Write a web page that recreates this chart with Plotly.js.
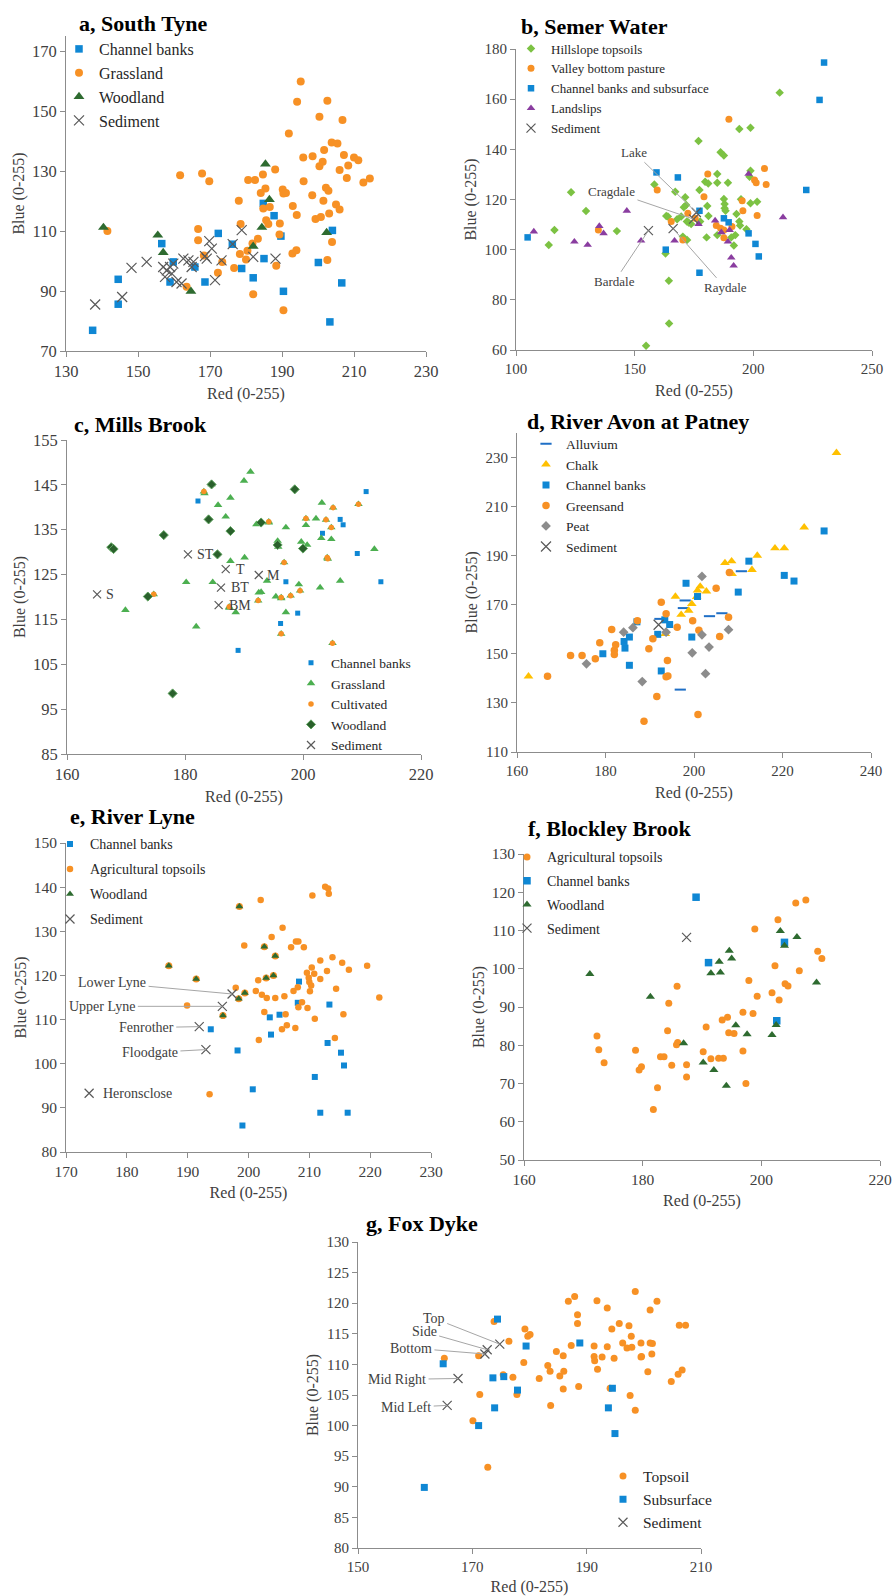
<!DOCTYPE html>
<html><head><meta charset="utf-8">
<script src="https://cdn.plot.ly/plotly-3.0.1.min.js"></script>
<style>html,body{margin:0;padding:0;background:#fff}#chart{width:893px;height:1596px}</style>
</head><body><div id="chart"></div>
<script>
// ---------------- DATA ----------------
// a, South Tyne
const a_cb_red  = [137.4,144.5,144.5,156.6,159.8,158.9,165.8,168.6,172.3,176.2,178.8,182.0,185.0,184.8,187.8,189.7,190.4,200.1,203.3,204.0,206.6];
const a_cb_blue = [76.9,85.6,93.9,105.8,99.7,93.0,98.0,93.0,109.2,105.6,97.5,94.4,100.8,119.2,115.1,108.3,89.9,99.5,79.7,110.2,92.7];
const a_gr_red  = [141.5,161.7,167.8,169.8,163.5,166.7,166.7,168.3,172.2,173.4,176.7,178.0,178.5,178.3,180.0,180.4,180.6,182.5,181.8,183.3,182.0,184.1,184.7,185.4,184.8,185.6,186.2,186.6,188.1,188.4,189.4,189.3,190.2,190.4,191.1,190.4,191.9,193.0,192.9,194.0,194.1,194.2,195.2,195.9,196.0,198.5,198.4,199.3,200.4,200.4,200.8,201.3,201.7,201.5,202.2,202.6,202.6,202.9,203.1,203.8,203.9,205.4,205.0,206.0,206.0,206.8,207.2,208.0,208.4,210.0,211.2,212.6,214.4];
const a_gr_blue = [110.0,128.6,129.2,126.6,91.4,110.7,106.9,101.8,96.1,99.7,97.7,120.1,112.3,102.3,100.5,103.4,127.0,127.0,105.8,107.4,88.9,122.7,128.8,124.2,117.5,113.6,112.3,118.0,130.5,98.4,112.5,108.8,123.8,122.5,122.7,83.6,142.5,118.3,102.5,103.6,115.3,153.1,159.8,134.5,126.6,134.9,121.9,114.0,148.1,131.6,114.7,133.1,137.0,120.1,124.4,153.4,100.3,123.4,115.8,139.5,106.3,139.2,118.8,117.2,130.3,147.0,135.3,127.7,131.8,134.5,133.6,126.2,127.5];
const a_wd_red  = [140.4,155.5,157.0,164.7,182.0,184.4,185.4,186.5,202.4];
const a_wd_blue = [111.2,108.6,102.8,89.9,104.9,111.2,132.3,120.5,109.5];
const a_sed_red  = [138.1,145.6,148.2,152.4,157.0,157.5,158.0,158.9,159.4,159.8,160.7,162.1,162.6,164.0,164.9,165.4,168.6,169.1,169.8,170.5,171.4,173.2,176.3,178.8,182.0,188.2];
const a_sed_blue = [85.5,88.0,97.7,99.7,98.0,94.7,96.9,98.0,95.8,99.1,93.0,92.5,100.8,100.2,98.0,99.7,101.6,100.8,106.6,104.1,93.6,100.2,105.6,110.3,101.4,100.8];

// b, Semer Water
const b_hs_red  = [113.8,116.2,123.2,129.5,142.5,154.8,158.3,163.0,163.3,164.0,164.4,164.5,167.1,167.9,169.6,170.7,171.3,171.7,172.0,172.7,172.1,170.3,173.8,176.9,177.3,177.6,179.7,180.6,180.3,181.0,181.1,184.8,184.8,184.8,186.2,187.6,187.6,187.9,187.9,188.3,189.3,190.7,191.8,192.4,192.9,194.1,194.1,194.4,194.8,197.1,198.4,198.8,198.8,198.8,201.6,211.1];
const b_hs_blue = [101.9,107.8,122.9,115.4,107.4,61.7,126.0,98.5,113.4,113.2,87.6,70.6,123.1,112.1,113.2,116.9,120.9,117.8,111.2,110.8,103.9,105.2,110.2,143.3,123.8,111.2,127.1,117.4,104.9,126.4,113.4,130.2,126.7,105.8,138.8,137.5,120.2,118.2,116.5,115.5,126.7,104.9,101.7,105.8,114.2,148.1,111.2,109.6,120.1,108.1,129.1,131.5,148.6,118.5,119.1,162.6];
const b_vb_red  = [134.7,159.5,165.4,170.3,172.4,175.5,179.2,180.8,184.4,186.2,187.6,187.6,189.7,191.0,195.3,195.6,200.5,201.2,201.6,204.7,205.4];
const b_vb_blue = [107.8,123.8,111.2,103.9,114.5,112.5,121.1,130.2,109.6,108.5,104.8,107.8,152.0,109.2,119.5,115.5,127.8,126.7,113.6,132.4,126.0];
const b_cb_red  = [104.9,159.2,163.1,168.2,177.3,177.3,187.6,189.6,198.0,200.9,202.3,222.3,227.9,229.8];
const b_cb_blue = [104.9,130.8,100.0,128.8,115.5,90.8,112.5,110.9,106.5,102.3,97.3,123.8,159.7,174.6];
const b_ls_red  = [107.5,124.6,130.2,135.1,136.9,146.7,152.7,166.8,176.9,183.9,186.5,189.3,190.0,190.7,191.7,198.0,212.5];
const b_ls_blue = [107.2,103.2,101.9,109.4,106.5,115.5,103.6,103.6,110.2,111.6,106.9,103.2,107.8,96.8,93.6,130.2,112.9];
const b_sed_names = ['Lake','Cragdale','Bardale','Raydale'];
const b_sed_red   = [176.0,174.8,155.8,166.2];
const b_sed_blue  = [114.8,112.2,107.6,108.4];

// c, Mills Brook
const c_cb_red  = [182.2,189.0,196.2,197.1,199.1,203.3,206.3,206.8,209.2,210.7,213.2];
const c_cb_blue = [141.4,108.1,114.1,123.4,116.4,134.2,137.3,136.1,129.7,143.5,123.4];
const c_gr_red  = [169.9,180.2,181.9,183.3,184.5,184.7,185.6,186.9,187.7,187.7,187.5,188.6,190.0,190.1,191.1,192.1,192.5,192.9,193.9,194.2,195.4,195.7,195.8,196.3,197.1,197.1,199.3,199.7,200.5,200.7,202.2,202.9,203.1,203.2,204.8,206.3,212.1];
const c_gr_blue = [117.1,123.3,113.4,143.1,145.1,123.3,140.5,137.9,142.1,128.0,117.6,116.6,145.9,128.8,147.9,136.2,121.0,121.1,123.6,136.6,120.1,132.5,131.2,119.7,135.5,116.6,122.8,132.3,136.0,131.6,137.5,122.1,133.1,141.0,132.9,123.6,130.7];
const c_cu_red  = [174.7,183.2,187.5,192.4,194.2,196.3,196.3,196.8,197.9,199.5,200.5,203.9,204.1,204.2,204.8,205.1,205.0,209.4];
const c_cu_blue = [120.6,143.5,117.8,119.2,136.8,119.9,111.8,127.7,120.3,121.4,137.5,137.2,128.8,128.5,135.5,139.9,109.7,140.7];
const c_wd_red  = [167.5,167.9,173.7,176.4,177.9,184.0,184.5,185.5,187.7,192.9,195.7,198.6,200.0];
const c_wd_blue = [131.1,130.7,120.1,133.8,98.5,137.3,145.1,129.5,134.7,136.6,131.6,144.0,130.8];
const c_sed_names = ['S','ST','T','M','BT','BM'];
const c_sed_red   = [165.1,180.5,186.9,192.5,186.1,185.7];
const c_sed_blue  = [120.6,129.5,126.2,124.9,122.1,118.2];

// d, River Avon at Patney
const d_al_red  = [210.7,198.0,197.6,203.5,206.3,192.3,196.9];
const d_al_blue = [183.6,171.7,168.6,165.3,166.5,164.2,135.4];
const d_ch_red  = [162.6,195.8,197.1,198.8,199.5,200.8,201.4,202.8,200.6,193.5,207.0,208.5,208.6,213.1,214.3,218.3,220.4,224.9,232.2];
const d_ch_blue = [140.8,173.3,165.9,167.6,170.3,175.8,177.4,175.4,173.2,158.1,187.0,187.7,182.5,184.2,190.0,193.0,193.0,201.5,231.8];
const d_cb_red  = [179.4,184.2,184.4,185.4,185.4,192.6,191.8,193.4,194.5,198.2,199.5,200.8,210.0,212.4,220.4,222.6,229.4,187.1];
const d_cb_blue = [150.0,155.0,152.3,156.8,145.3,143.0,157.9,163.8,161.9,178.7,156.8,173.3,175.1,187.7,181.9,179.6,200.0,163.0];
const d_gs_red  = [166.9,172.1,174.7,177.7,178.7,181.4,182.0,182.0,182.3,187.2,188.7,189.8,190.7,191.6,192.6,193.7,194.0,193.7,194.1,196.2,199.7,201.1,200.9,205.0,205.8,207.8,208.0];
const d_gs_blue = [140.8,149.3,149.3,148.0,154.5,159.9,151.4,149.7,153.7,163.4,122.5,152.0,156.1,132.6,171.0,166.3,147.3,140.6,140.9,160.8,163.4,159.6,125.3,176.7,157.0,164.9,183.1];
const d_pt_red  = [175.7,184.1,186.2,188.3,193.7,199.6,201.8,201.8,202.6,203.4,207.8];
const d_pt_blue = [145.9,158.8,160.6,138.7,158.8,150.4,181.5,157.7,141.9,152.7,159.8];
const d_sed_red  = [192.0];
const d_sed_blue = [161.8];

// e, River Lyne
const e_cb_red  = [193.8,198.2,199.0,200.7,203.5,203.7,205.1,208.1,208.3,210.9,211.8,213.0,213.3,215.2,215.7,216.3];
const e_cb_blue = [107.8,103.0,86.0,94.2,110.5,106.6,111.1,113.8,118.6,97.0,88.9,104.7,113.4,102.5,99.6,88.9];
const e_ag_red  = [189.9,193.6,197.9,199.3,201.2,201.6,201.7,202.0,202.2,202.6,203.0,203.8,204.4,205.5,205.6,205.9,206.1,206.3,207.0,207.4,207.7,207.8,208.2,208.1,208.2,208.8,209.1,209.7,209.6,209.9,210.0,210.1,210.4,210.5,210.3,210.8,210.9,211.8,211.8,212.6,212.9,213.1,213.2,213.8,214.2,214.4,215.4,215.6,216.5,219.5,221.5];
const e_ag_blue = [113.2,93.1,117.2,126.8,116.5,118.9,105.4,137.1,115.6,111.7,114.9,128.7,114.9,107.8,130.8,115.3,111.2,108.7,126.4,116.5,108.1,127.7,127.7,117.3,112.8,113.9,126.4,112.6,120.6,119.5,118.5,116.4,121.8,138.1,117.7,120.4,110.2,119.2,123.4,140.1,121.0,139.7,138.5,124.1,105.8,117.0,122.9,111.2,121.3,122.2,115.0];
const e_wd_red  = [186.9,191.4,195.8,198.4,199.4,198.5,202.6,202.9,204.1,204.4];
const e_wd_blue = [122.2,119.2,110.9,114.7,116.0,135.6,126.5,119.4,120.0,124.4];
const e_sed_names = ['Lower Lyne','Upper Lyne','Fenrother','Floodgate','Heronsclose'];
const e_sed_red   = [197.3,195.7,191.9,193.0,173.8];
const e_sed_blue  = [115.8,113.0,108.4,103.2,93.3];

// f, Blockley Brook
const f_ag_red  = [172.3,172.6,173.5,178.8,179.4,179.8,181.8,182.5,183.0,183.6,184.2,184.4,184.9,185.7,185.8,185.9,187.4,187.4,190.2,190.7,191.5,192.8,193.6,193.4,194.3,194.5,195.4,196.9,196.9,197.4,197.9,198.6,198.9,199.3,201.8,202.3,202.8,203.0,204.0,204.5,205.8,206.4,207.5,209.5,210.2];
const f_ag_blue = [82.4,78.8,75.4,78.7,73.5,74.4,63.2,68.9,77.0,77.0,83.8,91.0,74.8,80.1,95.4,80.7,74.9,71.7,78.3,84.8,76.5,76.6,76.6,86.6,87.3,83.3,83.1,88.6,78.5,70.0,96.9,88.3,110.4,92.8,93.7,100.8,112.8,91.8,96.1,95.5,117.2,99.5,118.0,104.6,102.7];
const f_cb_red  = [189.0,191.1,202.6,203.9];
const f_cb_blue = [118.7,101.6,86.4,106.9];
const f_wd_red  = [171.1,181.3,186.9,190.2,191.5,192.9,193.1,192.0,194.6,194.1,195.0,195.7,197.6,201.8,202.5,203.2,203.9,206.0,209.3];
const f_wd_blue = [98.6,92.7,80.5,75.5,98.8,101.8,99.0,73.5,104.7,69.4,102.7,85.2,82.9,82.7,85.3,109.9,106.0,108.3,96.4];
const f_sed_red  = [187.4];
const f_sed_blue = [108.2];

// g, Fox Dyke
const g_ts_red  = [165.1,171.1,171.3,170.1,172.7,173.8,175.4,176.4,177.1,177.8,179.0,179.2,179.7,180.1,181.7,183.2,183.6,183.7,184.7,185.3,185.9,186.0,185.9,186.8,187.3,187.9,188.4,188.4,188.6,191.3,191.3,191.4,191.8,191.9,192.7,193.6,193.6,194.4,194.8,194.1,195.7,196.3,197.05,197.4,197.8,197.6,197.9,198.5,198.5,199.5,199.5,199.6,200.7,201.1,201.1,201.4,201.5,202.3,204.8,206.0,206.2,206.7,207.3];
const g_ts_blue = [111.0,111.4,105.1,100.8,93.2,117.0,108.3,113.8,107.9,105.1,110.3,115.8,114.6,114.9,107.7,109.8,108.9,103.3,112.1,108.1,111.4,108.9,106.0,120.3,113.1,121.1,118.1,116.7,106.4,113.0,111.3,110.6,120.4,109.2,111.2,119.2,112.9,115.8,111.0,106.1,116.7,113.5,112.7,116.3,114.6,104.9,112.8,121.9,102.5,113.5,111.2,111.3,108.8,118.9,113.5,111.7,113.4,120.3,107.2,108.4,116.4,109.1,116.4];
const g_ss_red  = [161.6,164.9,171.1,173.6,173.9,174.4,175.5,177.9,179.4,188.8,193.8,194.5,194.95];
const g_ss_blue = [89.9,110.1,100.0,107.8,102.9,117.4,108.0,105.8,113.0,113.5,102.9,106.1,98.7];
const g_sed_names = ['Top','Side','Bottom','Mid Right','Mid Left'];
const g_sed_red   = [174.8,172.6,172.2,167.5,165.6];
const g_sed_blue  = [113.3,112.4,111.7,107.7,103.3];

// ---------------- STYLE / LAYOUT ----------------
const W = 893, H = 1596;
const SERIF = '"Liberation Serif", "Times New Roman", serif';
const C = {blue:'#0F87D4', orange:'#F79125', dkgreen:'#2E6B30', green:'#4CAF50', wgreen:'#2A602C',
           lgreen:'#7CC243', purple:'#8A3DA0', yellow:'#FFC000', peat:'#8C8C8C', alluv:'#1F6FC6', sed:'#595959'};

// panel geometry in pixels: x axis [left,right], y axis [bottom,top]; legend [left, top]
const PANELS = [
  {id:'a', title:'a, South Tyne',          tx:77,  ty:23,   xd:[66,426],  yd:[351,36],   xr:[130,230], yr:[70,175],  xt:[130,20], yt:[70,20],  tf:16.5, leg:[59,32],    lf:16,   lg:0},
  {id:'b', title:'b, Semer Water',         tx:519, ty:27,   xd:[516,872], yd:[350,49],   xr:[100,250], yr:[60,180],  xt:[100,50], yt:[60,20],  tf:15,   leg:[511,33.5], lf:13,   lg:0},
  {id:'c', title:'c, Mills Brook',         tx:72,  ty:424,  xd:[67,421],  yd:[754,440],  xr:[160,220], yr:[85,155],  xt:[160,20], yt:[85,10],  tf:16.5, leg:[291,647.5],lf:13.5, lg:0},
  {id:'d', title:'d, River Avon at Patney',tx:525, ty:421,  xd:[517,871], yd:[752,432.7],xr:[160,240], yr:[110,240], xt:[160,20], yt:[110,20], tf:15,   leg:[526,428.5],lf:13.5, lg:0},
  {id:'e', title:'e, River Lyne',          tx:68,  ty:817,  xd:[66,431],  yd:[1152,843], xr:[170,230], yr:[80,150],  xt:[170,10], yt:[80,10],  tf:15.5, leg:[50,828.4], lf:14,   lg:3.8},
  {id:'f', title:'f, Blockley Brook',      tx:526, ty:828,  xd:[524,880], yd:[1160,854], xr:[160,220], yr:[50,130],  xt:[160,20], yt:[50,10],  tf:15.5, leg:[507,841.4],lf:14,   lg:2.5},
  {id:'g', title:'g, Fox Dyke',            tx:364, ty:1223, xd:[358,701], yd:[1548,1242],xr:[150,210], yr:[80,130],  xt:[150,20], yt:[80,5],   tf:15,   leg:[603,1459.4],lf:15.5, lg:0}
];

const layout = {width:W, height:H, margin:{l:0,r:0,t:0,b:0}, paper_bgcolor:'#fff', plot_bgcolor:'rgba(0,0,0,0)',
                showlegend:true, annotations:[], font:{family:SERIF, color:'#404040'}};
const traces = [];
const AXC = '#8c8c8c';

PANELS.forEach((p, i) => {
  const n = i === 0 ? '' : String(i + 1);
  p.xa = 'x' + n; p.ya = 'y' + n; p.lg_name = 'legend' + n;
  layout['xaxis' + n] = {domain:[p.xd[0]/W, p.xd[1]/W], range:p.xr, tickmode:'linear', tick0:p.xt[0], dtick:p.xt[1],
    anchor:p.ya, showline:true, linecolor:AXC, linewidth:1, ticks:'outside', ticklen:5, tickcolor:AXC, showgrid:false, zeroline:false,
    tickfont:{family:SERIF, size:p.tf, color:'#404040'}, fixedrange:true,
    title:{text:'Red (0-255)', font:{family:SERIF, size:16, color:'#404040'}, standoff:8}};
  layout['yaxis' + n] = {domain:[1-p.yd[0]/H, 1-p.yd[1]/H], range:p.yr, tickmode:'linear', tick0:p.yt[0], dtick:p.yt[1],
    anchor:p.xa, showline:true, linecolor:AXC, linewidth:1, ticks:'outside', ticklen:5, tickcolor:AXC, showgrid:false, zeroline:false,
    tickfont:{family:SERIF, size:p.tf, color:'#404040'}, fixedrange:true,
    title:{text:'Blue (0-255)', font:{family:SERIF, size:16, color:'#404040'}, standoff:3}};
  layout[p.lg_name] = {x:p.leg[0]/W, y:1-p.leg[1]/H, xanchor:'left', yanchor:'top', bgcolor:'rgba(0,0,0,0)', borderwidth:0,
    font:{family:SERIF, size:p.lf, color:'#262626'}, traceorder:'grouped', tracegroupgap:p.lg, itemsizing:'trace'};
  layout.annotations.push({xref:'paper', yref:'paper', x:p.tx/W, y:1-p.ty/H, xanchor:'left', yanchor:'middle', showarrow:false,
    text:'<b>' + p.title + '</b>', font:{family:SERIF, size:22, color:'#000'}});
});
const PB = Object.fromEntries(PANELS.map(p => [p.id, p]));

let gcount = 0;
function add(pid, name, xs, ys, marker, opts) {
  const p = PB[pid];
  const t = {type:'scatter', mode:'markers', x:xs, y:ys, xaxis:p.xa, yaxis:p.ya, name:name, legend:p.lg_name,
             legendgroup:'g' + (gcount++), marker:Object.assign({line:{width:0}}, marker), hoverinfo:'skip', cliponaxis:false};
  Object.assign(t, opts || {});
  traces.push(t);
}
const sq = (c, s) => ({symbol:'square', color:c, size:s});
const ci = (c, s) => ({symbol:'circle', color:c, size:s});
const tr = (c, s) => ({symbol:'triangle-up', color:c, size:s});
const di = (c, s) => ({symbol:'diamond', color:c, size:s});
const xx = (s) => ({symbol:'x-thin-open', color:C.sed, size:s, line:{width:1.2, color:C.sed}});

// a
add('a', 'Channel banks', a_cb_red, a_cb_blue, sq(C.blue, 7.5));
add('a', 'Grassland', a_gr_red, a_gr_blue, ci(C.orange, 8));
add('a', 'Woodland', a_wd_red, a_wd_blue, tr(C.dkgreen, 9.5));
add('a', 'Sediment', a_sed_red, a_sed_blue, xx(10));
// b
add('b', 'Hillslope topsoils', b_hs_red, b_hs_blue, di(C.lgreen, 6.5));
add('b', 'Valley bottom pasture', b_vb_red, b_vb_blue, ci(C.orange, 7));
add('b', 'Channel banks and subsurface', b_cb_red, b_cb_blue, sq(C.blue, 6.5));
add('b', 'Landslips', b_ls_red, b_ls_blue, tr(C.purple, 7.5));
add('b', 'Sediment', b_sed_red, b_sed_blue, xx(9));
// c
add('c', 'Channel banks', c_cb_red, c_cb_blue, sq(C.blue, 5));
add('c', 'Grassland', c_gr_red, c_gr_blue, tr(C.green, 7.5));
add('c', 'cu-under', c_cu_red, c_cu_blue, tr(C.green, 7.5), {showlegend:false});
add('c', 'Cultivated', c_cu_red, c_cu_blue, ci(C.orange, 5.5));
add('c', 'Woodland', c_wd_red, c_wd_blue, Object.assign(di(C.wgreen, 7), {line:{width:1, color:'#5FA35F'}}));
add('c', 'Sediment', c_sed_red, c_sed_blue, xx(8));
// d
add('d', 'Alluvium', d_al_red, d_al_blue, {symbol:'line-ew', size:8, color:C.alluv, line:{width:2, color:C.alluv}});
add('d', 'Chalk', d_ch_red, d_ch_blue, tr(C.yellow, 8.5));
add('d', 'Channel banks', d_cb_red, d_cb_blue, sq(C.blue, 7));
add('d', 'Greensand', d_gs_red, d_gs_blue, ci(C.orange, 7.5));
add('d', 'Peat', d_pt_red, d_pt_blue, di(C.peat, 7.5));
add('d', 'Sediment', d_sed_red, d_sed_blue, xx(10));
// e
add('e', 'Channel banks', e_cb_red, e_cb_blue, sq(C.blue, 6));
add('e', 'Agricultural topsoils', e_ag_red, e_ag_blue, ci(C.orange, 6.5));
add('e', 'wd-under', e_wd_red, e_wd_blue, ci(C.orange, 7), {showlegend:false});
add('e', 'Woodland', e_wd_red, e_wd_blue, tr(C.dkgreen, 7));
add('e', 'Sediment', e_sed_red, e_sed_blue, xx(9));
// f
add('f', 'Agricultural topsoils', f_ag_red, f_ag_blue, ci(C.orange, 7));
add('f', 'Channel banks', f_cb_red, f_cb_blue, sq(C.blue, 7.5));
add('f', 'Woodland', f_wd_red, f_wd_blue, tr(C.dkgreen, 8));
add('f', 'Sediment', f_sed_red, f_sed_blue, xx(9));
// g
add('g', 'Topsoil', g_ts_red, g_ts_blue, ci(C.orange, 7));
add('g', 'Subsurface', g_ss_red, g_ss_blue, sq(C.blue, 7));
add('g', 'Sediment', g_sed_red, g_sed_blue, xx(9));

// ---- sediment labels ----
const LAB = {family:SERIF, size:13.5, color:'#404040'};
const LEAD = '#a6a6a6';
function leader(pid, names, xs, ys, offs, fsize) {
  const p = PB[pid];
  names.forEach((nm, i) => {
    const o = offs[nm];
    if (!o) return;
    if (o.right) {
      layout.annotations.push({xref:p.xa, yref:p.ya, x:xs[i], y:ys[i], text:nm, showarrow:false, xanchor:'left', yanchor:'middle',
        xshift:o.right, font:Object.assign({}, LAB, {size:fsize})});
    } else {
      layout.annotations.push({xref:p.xa, yref:p.ya, x:xs[i], y:ys[i], text:nm, showarrow:true, arrowhead:0, arrowwidth:1,
        arrowcolor:LEAD, ax:o.ax, ay:o.ay, standoff:0, startstandoff:1, font:Object.assign({}, LAB, {size:fsize})});
    }
  });
}
leader('b', b_sed_names, b_sed_red, b_sed_blue,
  {'Lake':{ax:-62, ay:-60}, 'Cragdale':{ax:-82, ay:-28}, 'Bardale':{ax:-34, ay:51}, 'Raydale':{ax:52, ay:59}}, 13);
leader('c', c_sed_names, c_sed_red, c_sed_blue,
  {'S':{right:7}, 'ST':{right:7}, 'T':{right:8}, 'M':{right:6}, 'BT':{right:8}, 'BM':{right:8}}, 14);
leader('e', e_sed_names, e_sed_red, e_sed_blue,
  {'Lower Lyne':{ax:-120, ay:-11}, 'Upper Lyne':{ax:-120, ay:0}, 'Fenrother':{ax:-53, ay:1}, 'Floodgate':{ax:-56, ay:3}, 'Heronsclose':{right:12}}, 14);
leader('g', g_sed_names, g_sed_red, g_sed_blue,
  {'Top':{ax:-66, ay:-26}, 'Side':{ax:-63, ay:-18}, 'Bottom':{ax:-74, ay:-6}, 'Mid Right':{ax:-61, ay:1}, 'Mid Left':{ax:-41, ay:2}}, 14);

Plotly.newPlot('chart', traces, layout, {staticPlot:true, displayModeBar:false});
</script>
</body></html>
